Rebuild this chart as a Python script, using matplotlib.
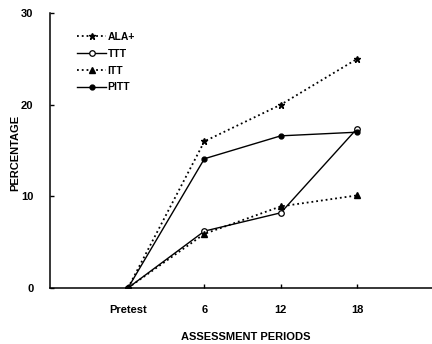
import matplotlib
matplotlib.use("Agg")
import matplotlib.pyplot as plt

periods = ["Pretest", "6", "12", "18"]
ala_plus = [0, 16, 20, 25]
ttt = [0, 6.2, 8.2, 17.4]
itt = [0, 5.9, 8.9, 10.1]
pitt = [0, 14.1, 16.6, 17.0]

plt.rcParams['font.family'] = ['Liberation Sans', 'DejaVu Sans']
plt.rcParams['font.weight'] = 'bold'

fig = plt.figure(figsize=(4.32, 3.44), dpi=100)
ax = fig.add_axes([0.116, 0.163, 0.884, 0.799])

x = list(range(len(periods)))
ax.plot(x, ala_plus, ls=':', lw=1.3, color='black', marker='*', ms=5, label='ALA+')
ax.plot(x, ttt, ls='-', lw=1.0, color='black', marker='o', ms=4,
        mfc='white', mew=0.9, label='TTT')
ax.plot(x, itt, ls=':', lw=1.3, color='black', marker='^', ms=4, label='ITT')
ax.plot(x, pitt, ls='-', lw=1.0, color='black', marker='o', ms=3.5, label='PITT')

ax.set_xlim(-1.02, 3.98)
ax.set_ylim(0, 30)
ax.set_yticks([0, 10, 20, 30])
ax.set_xticks(x)
ax.set_xticklabels(periods)
ax.tick_params(direction='in', length=3, width=1, labelsize=8, pad=12)
ax.tick_params(axis='y', pad=12)

for s in ['top', 'right']:
    ax.spines[s].set_visible(False)
for s in ['left', 'bottom']:
    ax.spines[s].set_linewidth(1.1)

ax.set_xlabel('ASSESSMENT PERIODS', fontsize=8, fontweight='bold')
ax.set_ylabel('PERCENTAGE', fontsize=8, fontweight='bold')
ax.xaxis.set_label_coords(0.513, -0.16)
ax.yaxis.set_label_coords(-0.078, 0.49)

ax.legend(loc='upper left', bbox_to_anchor=(0.058, 0.95), frameon=False,
          fontsize=7.5, handlelength=2.7, handletextpad=0.2, labelspacing=0.65,
          borderpad=0)

fig.savefig('out.png', dpi=100)
